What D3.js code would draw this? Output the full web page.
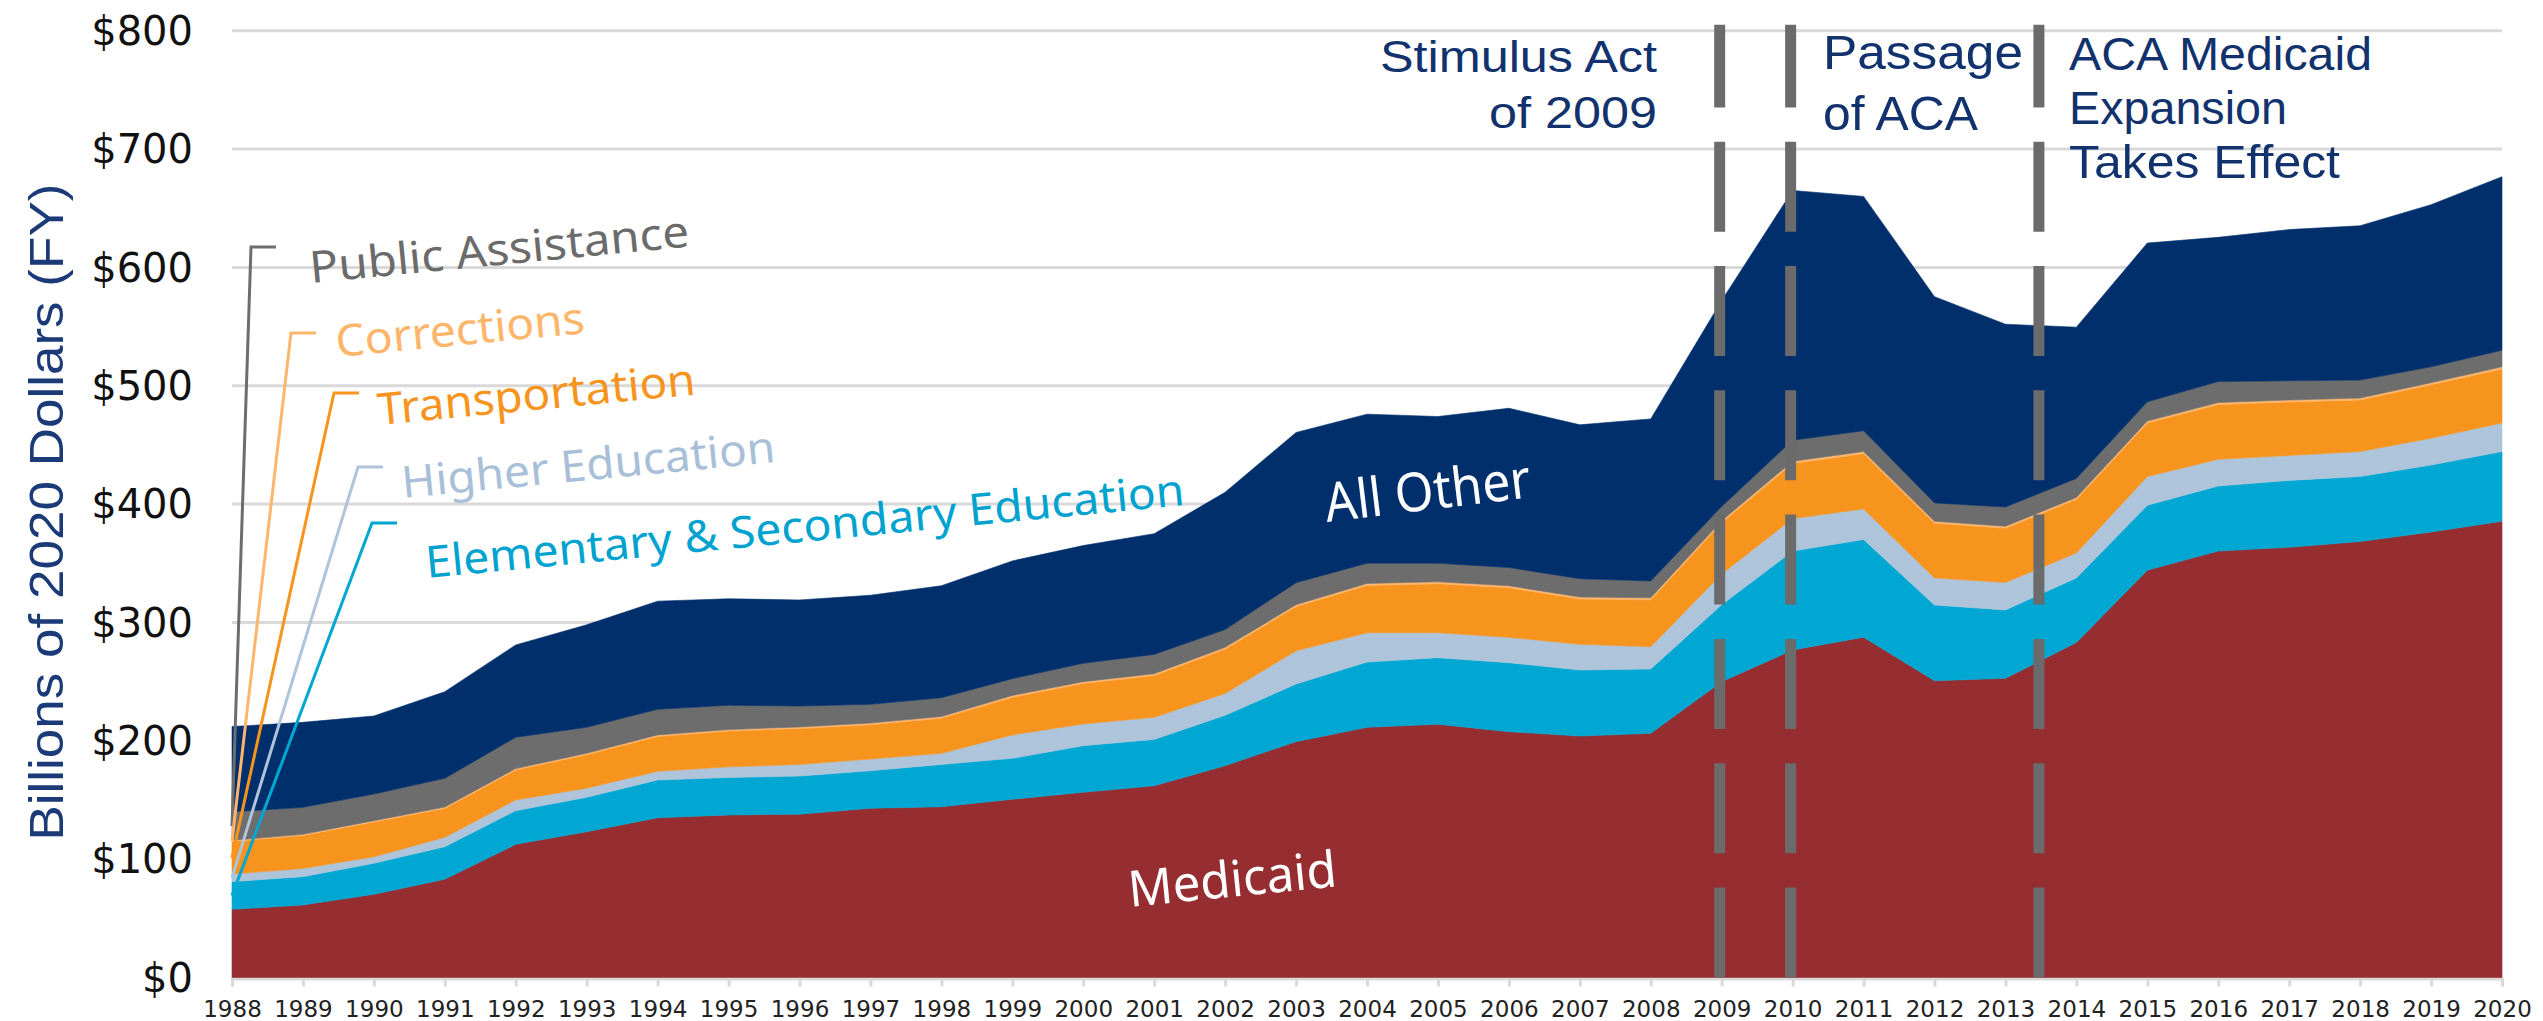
<!DOCTYPE html>
<html>
<head>
<meta charset="utf-8">
<script src="https://cdn.jsdelivr.net/npm/d3@7/dist/d3.min.js"></script>
<style>
  html, body { margin: 0; padding: 0; background: #ffffff; }
  svg { display: block; }
</style>
</head>
<body>
<div id="chart"></div>
<script>
"use strict";

// fiscal years on the x axis
const YEARS = [1988, 1989, 1990, 1991, 1992, 1993, 1994, 1995, 1996, 1997, 1998, 1999, 2000, 2001, 2002, 2003, 2004, 2005, 2006, 2007, 2008, 2009, 2010, 2011, 2012, 2013, 2014, 2015, 2016, 2017, 2018, 2019, 2020];

// billions of 2020 dollars (bottom to top)
const MEDICAID = [57.6, 61.3, 70.3, 83.0, 112.5, 123.2, 135.0, 137.3, 138.0, 143.0, 144.3, 150.6, 156.5, 162.0, 179.0, 199.3, 211.4, 214.0, 207.7, 204.0, 206.3, 250.0, 276.7, 287.5, 250.8, 252.8, 283.0, 344.2, 360.3, 363.5, 368.4, 376.4, 385.5];
const ELEM_SECONDARY_ED = [23.4, 23.9, 26.2, 27.5, 28.5, 29.0, 31.9, 31.7, 32.2, 31.7, 35.7, 34.6, 39.4, 39.2, 42.5, 48.7, 55.1, 56.2, 58.3, 55.8, 54.4, 65.0, 83.6, 82.5, 63.9, 57.7, 54.6, 54.8, 55.0, 56.5, 54.9, 56.6, 58.9];
const HIGHER_ED = [6.4, 7.0, 5.5, 8.0, 9.0, 7.8, 7.3, 9.0, 9.8, 9.9, 9.4, 19.8, 18.3, 18.6, 18.5, 28.0, 24.8, 21.1, 21.5, 21.7, 18.8, 26.0, 27.5, 25.9, 22.9, 23.3, 21.1, 24.3, 22.6, 21.1, 21.1, 22.7, 24.2];
const TRANSPORTATION = [27.6, 27.8, 29.4, 24.4, 25.3, 28.3, 29.5, 30.2, 30.4, 29.0, 29.7, 31.8, 34.3, 35.3, 37.4, 37.4, 40.0, 41.4, 41.8, 38.3, 39.6, 43.2, 46.6, 46.7, 46.2, 45.8, 45.2, 45.2, 46.2, 45.2, 43.5, 45.2, 45.6];
const CORRECTIONS = [1.0, 1.0, 1.1, 1.1, 1.2, 1.2, 1.3, 1.3, 1.3, 1.4, 1.4, 1.5, 1.5, 1.6, 1.6, 1.6, 1.7, 1.7, 1.7, 1.7, 1.7, 1.8, 1.8, 1.8, 1.7, 1.7, 1.7, 1.7, 1.7, 1.7, 1.7, 1.7, 1.8];
const PUBLIC_ASSISTANCE = [24.0, 22.8, 22.5, 24.3, 26.5, 21.9, 21.6, 20.5, 17.7, 15.8, 15.9, 14.2, 15.5, 16.3, 15.0, 18.6, 17.0, 15.6, 15.4, 15.5, 14.2, 12.0, 17.8, 17.6, 15.5, 16.2, 16.1, 16.2, 17.7, 16.2, 15.2, 13.4, 14.0];
const ALL_OTHER = [72.0, 71.8, 66.0, 73.2, 78.0, 86.6, 91.4, 90.0, 89.6, 92.2, 94.6, 99.5, 99.5, 102.0, 116.0, 126.9, 126.0, 124.0, 134.6, 130.0, 137.0, 174.0, 211.0, 198.0, 174.3, 154.5, 127.8, 134.2, 121.9, 127.8, 130.4, 137.0, 146.6];

const Y_TICKS = [0, 100, 200, 300, 400, 500, 600, 700, 800];
const EVENT_YEARS = [2009, 2010, 2013.5];
const EVENT_TEXT = [["Stimulus Act", "of 2009"], ["Passage", "of ACA"], ["ACA Medicaid", "Expansion", "Takes Effect"]];

const SERIES = [
  { key: "medicaid", name: "Medicaid", values: MEDICAID, color: "#962d30" },
  { key: "elem", name: "Elementary & Secondary Education", values: ELEM_SECONDARY_ED, color: "#00a7d3" },
  { key: "higher", name: "Higher Education", values: HIGHER_ED, color: "#adc4da" },
  { key: "transport", name: "Transportation", values: TRANSPORTATION, color: "#f7941e" },
  { key: "corrections", name: "Corrections", values: CORRECTIONS, color: "#fdb66c" },
  { key: "publicAssistance", name: "Public Assistance", values: PUBLIC_ASSISTANCE, color: "#6d6d6d" },
  { key: "other", name: "All Other", values: ALL_OTHER, color: "#002f6c" },
];

const WIDTH = 2543;
const HEIGHT = 1021;
const MARGIN = { top: 30.7, right: 41, bottom: 43.5, left: 232 };
const NAVY_TEXT = "#12326e";
const LABEL_FONT = "'Noto Sans', 'Open Sans', sans-serif";
const EVENT_FONT = "'Liberation Sans', Arial, sans-serif";

// leader-label layout, svg pixels
const LEADERS = [
  { key: "publicAssistance", corner: [251, 247], text: [311, 283], length: 381, textColor: "#6b6b6b" },
  { key: "corrections", corner: [291, 333], text: [337, 357], length: 250, textColor: "#fdb56a" },
  { key: "transport", corner: [334, 393], text: [379, 425], length: 319, textColor: "#f7941d" },
  { key: "higher", corner: [358, 467], text: [403, 498], length: 375, textColor: "#a9bfd8" },
  { key: "elem", corner: [372, 523], text: [427, 578], length: 762, textColor: "#00a3cf" },
];

const EVENT_LAYOUT = [
  { x: 1657, anchor: "end", size: 45, baselines: [72, 128], lengths: [277, 168] },
  { x: 1823, anchor: "start", size: 49, baselines: [69, 130], lengths: [200, 155] },
  { x: 2069, anchor: "start", size: 47, baselines: [70, 124.4, 178], lengths: [303, 218, 271] },
];

function drawChart() {
  const svg = d3.select("#chart").append("svg").attr("width", WIDTH).attr("height", HEIGHT);
  const innerW = WIDTH - MARGIN.left - MARGIN.right;
  const innerH = HEIGHT - MARGIN.top - MARGIN.bottom;
  const x = d3.scaleLinear().domain([YEARS[0], YEARS[YEARS.length - 1]]).range([MARGIN.left, MARGIN.left + innerW]);
  const y = d3.scaleLinear().domain([0, 800]).range([MARGIN.top + innerH, MARGIN.top]);

  const rows = YEARS.map(function toRow(year, i) {
    const row = { year: year };
    SERIES.forEach(function addValue(s) { row[s.key] = s.values[i]; });
    return row;
  });
  const layers = d3.stack().keys(SERIES.map(function key(s) { return s.key; }))(rows);
  const colorOf = {};
  SERIES.forEach(function setColor(s) { colorOf[s.key] = s.color; });

  // gridlines
  svg.append("g").selectAll("line").data(Y_TICKS.slice(1)).join("line")
    .attr("x1", x.range()[0]).attr("x2", x.range()[1])
    .attr("y1", function gy(d) { return y(d); }).attr("y2", function gy(d) { return y(d); })
    .attr("stroke", "#d9d9d9").attr("stroke-width", 3);

  // x axis baseline and ticks
  const xAxis = svg.append("g").attr("transform", "translate(0," + (y(0) + 1) + ")")
    .call(d3.axisBottom(x).tickValues(YEARS).tickFormat(d3.format("d")).tickSize(8).tickPadding(14));
  xAxis.select(".domain").attr("stroke", "#d9d9d9").attr("stroke-width", 3);
  xAxis.selectAll(".tick line").attr("stroke", "#d9d9d9").attr("stroke-width", 3);
  xAxis.selectAll(".tick text").attr("font-family", "'DejaVu Sans', sans-serif").attr("font-size", 23).attr("fill", "#222222");

  // y axis labels
  const yAxis = svg.append("g").attr("transform", "translate(" + (MARGIN.left - 39) + ",0)")
    .call(d3.axisLeft(y).tickValues(Y_TICKS).tickFormat(function fmt(d) { return "$" + d; }).tickSize(0).tickPadding(0));
  yAxis.select(".domain").remove();
  yAxis.selectAll(".tick text").attr("font-family", "'DejaVu Sans', sans-serif").attr("font-size", 40).attr("fill", "#111111").attr("dy", "0.34em");

  // stacked areas
  const area = d3.area()
    .x(function ax(d) { return x(d.data.year); })
    .y0(function ay0(d) { return y(d[0]); })
    .y1(function ay1(d) { return y(d[1]); });
  svg.append("g").selectAll("path").data(layers).join("path")
    .attr("d", area)
    .attr("fill", function fill(d) { return colorOf[d.key]; })
    .attr("stroke", function stroke(d) { return colorOf[d.key]; })
    .attr("stroke-width", 0.6);

  // y title
  svg.append("text")
    .attr("transform", "translate(63," + ((y(0) + y(800)) / 2 + 8) + ") rotate(-90)")
    .attr("text-anchor", "middle")
    .attr("font-family", "'Liberation Sans Narrow', 'Liberation Sans', sans-serif")
    .attr("font-size", 49).attr("fill", "#1b3a78")
    .attr("textLength", 657).attr("lengthAdjust", "spacingAndGlyphs")
    .text("Billions of 2020 Dollars (FY)");

  // leader lines from each thin layer at 1988 to its label
  const leaderGroup = svg.append("g");
  LEADERS.forEach(function drawLeader(item) {
    const layer = layers.find(function match(l) { return l.key === item.key; });
    const first = layer[0];
    const start = [x(first.data.year), y((first[0] + first[1]) / 2)];
    const path = d3.path();
    path.moveTo(start[0], start[1]);
    path.lineTo(item.corner[0], item.corner[1]);
    path.lineTo(item.corner[0] + 25, item.corner[1]);
    leaderGroup.append("path").attr("d", path.toString()).attr("fill", "none")
      .attr("stroke", colorOf[item.key]).attr("stroke-width", 3);
    const series = SERIES.find(function match(s) { return s.key === item.key; });
    leaderGroup.append("text")
      .attr("transform", "translate(" + item.text[0] + "," + item.text[1] + ") rotate(-5.5)")
      .attr("font-family", LABEL_FONT).attr("font-size", 44).attr("fill", item.textColor)
      .attr("textLength", item.length).attr("lengthAdjust", "spacingAndGlyphs")
      .text(series.name);
  });

  // labels inside the big areas
  svg.append("text")
    .attr("transform", "translate(1327,522) rotate(-6.9)")
    .attr("font-family", LABEL_FONT).attr("font-size", 54).attr("fill", "#ffffff")
    .attr("textLength", 207).attr("lengthAdjust", "spacingAndGlyphs")
    .text("All Other");
  svg.append("text")
    .attr("transform", "translate(1130,907) rotate(-5.7)")
    .attr("font-family", LABEL_FONT).attr("font-size", 50).attr("fill", "#ffffff")
    .attr("textLength", 209).attr("lengthAdjust", "spacingAndGlyphs")
    .text("Medicaid");

  // dashed event markers, drawn from the baseline upward
  svg.append("g").selectAll("line").data(EVENT_YEARS).join("line")
    .attr("x1", function ex(d) { return x(d) - 2; }).attr("x2", function ex(d) { return x(d) - 2; })
    .attr("y1", y(0)).attr("y2", y(805))
    .attr("stroke", "#6b6b6b").attr("stroke-width", 11)
    .attr("stroke-dasharray", "90 34.3");

  // event annotations
  const events = svg.append("g").attr("font-family", EVENT_FONT).attr("fill", NAVY_TEXT);
  EVENT_TEXT.forEach(function drawEvent(lines, i) {
    const layout = EVENT_LAYOUT[i];
    lines.forEach(function drawLine(line, j) {
      events.append("text")
        .attr("x", layout.x).attr("y", layout.baselines[j])
        .attr("text-anchor", layout.anchor)
        .attr("font-size", layout.size)
        .attr("textLength", layout.lengths[j]).attr("lengthAdjust", "spacingAndGlyphs")
        .text(line);
    });
  });
}

drawChart();
</script>
</body>
</html>
